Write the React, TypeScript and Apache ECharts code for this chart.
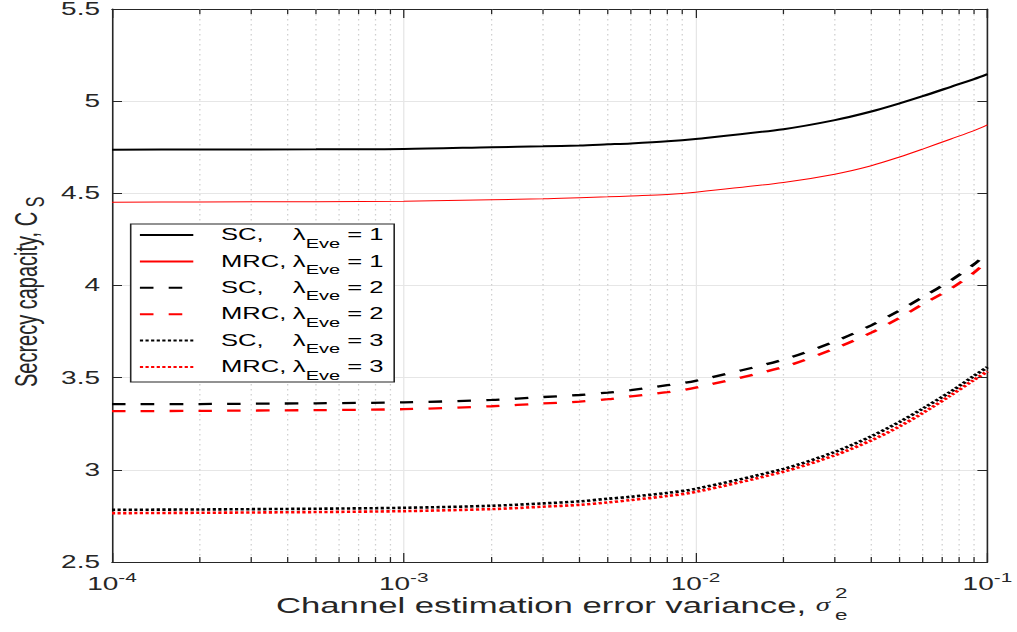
import React, { useEffect, useRef } from 'react';
import * as echarts from 'echarts';

// ---------- data ----------
const xValues = [1e-4, 2e-4, 5e-4, 1e-3, 2e-3, 3e-3, 4e-3, 5e-3, 6e-3, 8e-3, 1e-2, 2e-2, 3e-2, 4e-2, 5e-2, 6e-2, 7.5e-2, 9e-2, 1e-1];
const sc1 = [4.737, 4.738, 4.739, 4.741, 4.750, 4.755, 4.760, 4.766, 4.771, 4.782, 4.795, 4.848, 4.897, 4.944, 4.988, 5.027, 5.078, 5.120, 5.147];
const mrc1 = [4.452, 4.453, 4.455, 4.457, 4.465, 4.470, 4.476, 4.481, 4.486, 4.494, 4.506, 4.559, 4.604, 4.650, 4.697, 4.740, 4.795, 4.840, 4.871];
const sc2 = [3.356, 3.357, 3.361, 3.366, 3.379, 3.395, 3.406, 3.419, 3.432, 3.459, 3.483, 3.598, 3.697, 3.784, 3.865, 3.937, 4.028, 4.115, 4.178];
const mrc2 = [3.318, 3.320, 3.324, 3.329, 3.345, 3.360, 3.370, 3.383, 3.399, 3.421, 3.446, 3.558, 3.658, 3.744, 3.825, 3.898, 3.983, 4.070, 4.136];
const sc3 = [2.783, 2.785, 2.789, 2.794, 2.805, 2.818, 2.829, 2.843, 2.854, 2.875, 2.897, 3.005, 3.097, 3.182, 3.260, 3.332, 3.425, 3.510, 3.557];
const mrc3 = [2.765, 2.767, 2.771, 2.776, 2.787, 2.800, 2.810, 2.823, 2.836, 2.858, 2.880, 2.990, 3.079, 3.160, 3.236, 3.308, 3.405, 3.488, 3.534];

const seriesNames = ['SC, λEve = 1', 'MRC, λEve = 1', 'SC, λEve = 2', 'MRC, λEve = 2', 'SC, λEve = 3', 'MRC, λEve = 3'];
const legendSchemes = ['SC,', 'MRC,', 'SC,', 'MRC,', 'SC,', 'MRC,'];
const legendLambda = ['1', '1', '2', '2', '3', '3'];

const X_MIN = 1e-4;
const X_MAX = 1e-1;
const Y_MIN = 2.5;
const Y_MAX = 5.5;
const Y_STEP = 0.5;
const minorX = [2e-4, 3e-4, 4e-4, 5e-4, 6e-4, 7e-4, 8e-4, 9e-4, 2e-3, 3e-3, 4e-3, 5e-3, 6e-3, 7e-3, 8e-3, 9e-3, 2e-2, 3e-2, 4e-2, 5e-2, 6e-2, 7e-2, 8e-2, 9e-2];

// ---------- layout ----------
const W_OUT = 1017;
const H = 632;
const W = 636;
const S = W_OUT / W;
const u = (px: number) => px / S; // screen px -> unscaled px (horizontal)

const FONT = '"Liberation Sans", Arial, Helvetica, sans-serif';
const AX = '#262626';

const lineStyles = [
  { color: '#000000', width: 2, type: 'solid' },
  { color: '#ff0000', width: 1, type: 'solid' },
  { color: '#000000', width: 2.3, type: [8.5, 9.5] },
  { color: '#ff0000', width: 2.3, type: [8.5, 9.5] },
  { color: '#000000', width: 2.6, type: [2, 1.5] },
  { color: '#ff0000', width: 2.6, type: [2, 1.5] },
];
const seriesData = [sc1, mrc1, sc2, mrc2, sc3, mrc3];

function buildOption() {
  const lineSeries = seriesData.map((arr, i) => ({
    name: seriesNames[i],
    type: 'line',
    data: xValues.map((x, k) => [x, arr[k]]),
    showSymbol: false,
    symbol: 'none',
    smooth: 0.3,
    z: 3,
    itemStyle: { color: lineStyles[i].color },
    lineStyle: { ...lineStyles[i], cap: 'butt' },
  }));

  const minorSeries = {
    type: 'custom',
    silent: true,
    z: 1,
    clip: false,
    encode: { x: 0, y: 1 },
    data: minorX.map((x) => [x, Y_MIN]),
    renderItem: (params: any, api: any) => {
      const x = api.value(0);
      const top = api.coord([x, Y_MAX]);
      const bot = api.coord([x, Y_MIN]);
      return {
        type: 'group',
        children: [
          { type: 'line', shape: { x1: top[0], y1: top[1], x2: bot[0], y2: bot[1] }, style: { stroke: '#cfcfcf', lineWidth: 0.8, lineDash: [1.5, 3.5] } },
          { type: 'line', shape: { x1: bot[0], y1: bot[1], x2: bot[0], y2: bot[1] - 5 }, style: { stroke: AX, lineWidth: 0.8 } },
          { type: 'line', shape: { x1: top[0], y1: top[1], x2: top[0], y2: top[1] + 5 }, style: { stroke: AX, lineWidth: 0.8 } },
        ],
      };
    },
  };

  const legendText: Record<string, string> = {};
  seriesNames.forEach((n, i) => {
    legendText[n] = `{a|${legendSchemes[i]}}{l|λ}{e|Eve}{r| = ${legendLambda[i]}}`;
  });

  return {
    animation: false,
    backgroundColor: '#ffffff',
    grid: { left: u(112), right: u(27), top: 8, bottom: H - 562, containLabel: false },
    xAxis: [
      {
        type: 'log',
        logBase: 10,
        min: X_MIN,
        max: X_MAX,
        splitNumber: 3,
        position: 'bottom',
        axisLine: { show: true, onZero: false, lineStyle: { color: AX, width: 1 } },
        axisTick: { show: true, inside: true, length: 9, lineStyle: { color: AX, width: 0.8 } },
        axisLabel: {
          show: true,
          margin: 9,
          color: AX,
          fontFamily: FONT,
          showMinLabel: true,
          showMaxLabel: true,
          formatter: (v: number) => `{b|10}{s|${Math.round(Math.log10(v))}}`,
          rich: {
            b: { fontFamily: FONT, fontSize: 17.5, lineHeight: 18, padding: [4, 0, 0, 0], verticalAlign: 'top', color: AX },
            s: { fontFamily: FONT, fontSize: 13, lineHeight: 13, verticalAlign: 'top', color: AX },
          },
        },
        splitLine: { show: true, lineStyle: { color: '#e6e6e6', width: 0.8 } },
      },
      {
        type: 'log',
        logBase: 10,
        min: X_MIN,
        max: X_MAX,
        splitNumber: 3,
        position: 'top',
        axisLine: { show: true, onZero: false, lineStyle: { color: AX, width: 1 } },
        axisTick: { show: true, inside: true, length: 9, lineStyle: { color: AX, width: 0.8 } },
        axisLabel: { show: false },
        splitLine: { show: false },
      },
    ],
    yAxis: [
      {
        type: 'value',
        min: Y_MIN,
        max: Y_MAX,
        interval: Y_STEP,
        position: 'left',
        axisLine: { show: true, onZero: false, lineStyle: { color: AX, width: 1 } },
        axisTick: { show: true, inside: true, length: u(10), lineStyle: { color: AX, width: 1 } },
        axisLabel: { show: true, margin: u(12), color: AX, fontFamily: FONT, fontSize: 17.5 },
        splitLine: { show: true, lineStyle: { color: '#e6e6e6', width: 1 } },
      },
      {
        type: 'value',
        min: Y_MIN,
        max: Y_MAX,
        interval: Y_STEP,
        position: 'right',
        axisLine: { show: true, onZero: false, lineStyle: { color: AX, width: 1 } },
        axisTick: { show: true, inside: true, length: u(10), lineStyle: { color: AX, width: 1 } },
        axisLabel: { show: false },
        splitLine: { show: false },
      },
    ],
    legend: {
      show: true,
      data: seriesNames,
      orient: 'vertical',
      left: u(130.7),
      top: 224,
      itemWidth: u(53.4),
      itemHeight: 14,
      itemGap: 3.4,
      padding: [3, 6.7, 0, u(7.6)],
      borderColor: AX,
      borderWidth: 1,
      borderRadius: 0,
      backgroundColor: '#ffffff',
      selectedMode: false,
      itemStyle: { opacity: 0, borderWidth: 0 },
      formatter: (name: string) => legendText[name],
      textStyle: {
        fontFamily: FONT,
        fontSize: 16,
        color: '#000',
        padding: [0, 0, 0, u(221.7 - 191.7) - 6.5],
        rich: {
          a: { fontFamily: FONT, fontSize: 16, lineHeight: 16, verticalAlign: 'top', width: 45, color: '#000' },
          l: { fontFamily: FONT, fontSize: 16, lineHeight: 16, verticalAlign: 'top', color: '#000' },
          e: { fontFamily: FONT, fontSize: 12.5, lineHeight: 13, padding: [10, 0, 0, 0], verticalAlign: 'top', color: '#000' },
          r: { fontFamily: FONT, fontSize: 16, lineHeight: 16, verticalAlign: 'top', color: '#000' },
        },
      },
    },
    graphic: [
      {
        type: 'text',
        x: 6.2,
        y: 387,
        rotation: Math.PI / 2,
        silent: true,
        style: {
          text: '{m|Secrecy capacity, C}{s| S}',
          x: 0,
          y: 0,
          align: 'left',
          verticalAlign: 'top',
          textAlign: 'left',
          textVerticalAlign: 'top',
          fill: '#262626',
          rich: {
            m: { fontFamily: FONT, fontSize: 20, lineHeight: 20, verticalAlign: 'top', fill: '#262626', color: '#262626' },
            s: { fontFamily: FONT, fontSize: 16, lineHeight: 16, padding: [8, 0, 0, 0], verticalAlign: 'top', fill: '#262626', color: '#262626' },
          },
        },
      },
      {
        type: 'group',
        silent: true,
        children: [
          {
            type: 'text',
            x: u(276),
            y: 605.5,
            style: {
              text: '{t|Channel estimation error variance, }{g|σ}',
              align: 'left',
              verticalAlign: 'middle',
              textAlign: 'left',
              textVerticalAlign: 'middle',
              fill: '#262626',
              rich: {
                t: { fontFamily: FONT, fontSize: 21.7, lineHeight: 22, fill: '#262626', color: '#262626' },
                g: { fontFamily: '"Liberation Serif", "DejaVu Serif", serif', fontStyle: 'italic', fontSize: 18, lineHeight: 22, fill: '#262626', color: '#262626' },
              },
            },
          },
          {
            type: 'text',
            x: u(835),
            y: 593,
            style: { text: '2', font: `14px ${FONT}`, fill: '#262626', align: 'left', verticalAlign: 'middle', textAlign: 'left', textVerticalAlign: 'middle' },
          },
          {
            type: 'text',
            x: u(835),
            y: 615,
            style: { text: 'e', font: `14px ${FONT}`, fill: '#262626', align: 'left', verticalAlign: 'middle', textAlign: 'left', textVerticalAlign: 'middle' },
          },
        ],
      },
    ],
    series: [minorSeries, ...lineSeries],
  };
}

export default function App() {
  const ref = useRef<HTMLDivElement>(null);
  useEffect(() => {
    if (!ref.current) return;
    const chart = echarts.init(ref.current, null, { renderer: 'svg' });
    chart.setOption(buildOption() as any);
    return () => chart.dispose();
  }, []);
  return (
    <div
      ref={ref}
      style={{
        position: 'absolute',
        left: 0,
        top: 0,
        width: W,
        height: H,
        transform: `scaleX(${S})`,
        transformOrigin: '0 0',
        background: '#fff',
      }}
    />
  );
}
